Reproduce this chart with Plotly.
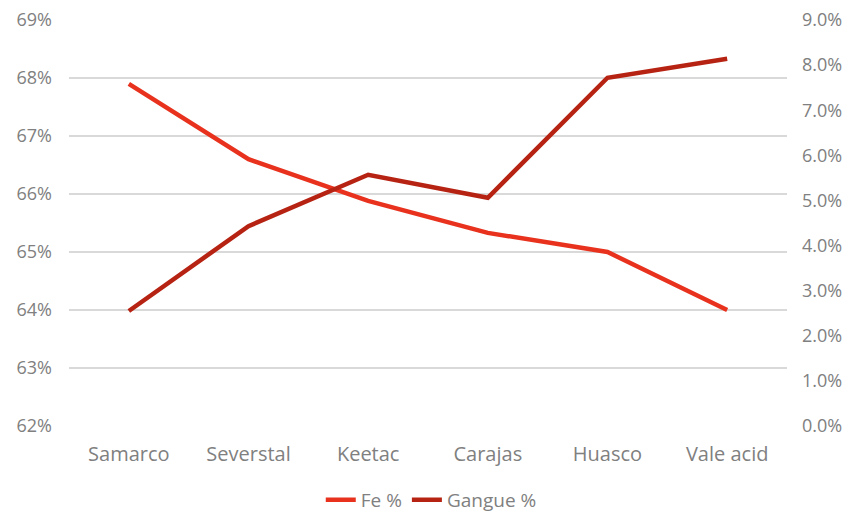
import plotly.graph_objects as go

categories = ["Samarco", "Severstal", "Keetac", "Carajas", "Huasco", "Vale acid"]
fe_pct = [67.9, 66.6, 65.88, 65.33, 65.0, 64.0]
gangue_pct = [2.55, 4.43, 5.57, 5.06, 7.72, 8.14]

left_ticks = [62, 63, 64, 65, 66, 67, 68, 69]
right_ticks = [0, 1, 2, 3, 4, 5, 6, 7, 8, 9]

font_family = "'Open Sans', Lato, sans-serif"
tick_color = "#808080"

fig = go.Figure()
fig.add_trace(go.Scatter(
    x=categories, y=fe_pct, name="Fe %", mode="lines",
    line=dict(color="#E8321E", width=4.5), yaxis="y"))
fig.add_trace(go.Scatter(
    x=categories, y=gangue_pct, name="Gangue %", mode="lines",
    line=dict(color="#B72313", width=4.5), yaxis="y2"))

fig.update_layout(
    width=854, height=514,
    margin=dict(l=69, r=67, t=20, b=88, autoexpand=False),
    paper_bgcolor="white", plot_bgcolor="white",
    font=dict(family=font_family, size=18, color=tick_color),
    showlegend=True,
    legend=dict(orientation="h", x=0.505, xanchor="center", xref="container",
                y=1 - 500 / 514, yanchor="middle", yref="container",
                font=dict(size=19, color=tick_color)),
    xaxis=dict(type="category", range=[-0.5, 5.5], showgrid=False, showline=False,
               zeroline=False, automargin=False,
               ticks="", tickfont=dict(size=20, color=tick_color), ticklabelstandoff=14),
    yaxis=dict(range=[62, 69], tickvals=left_ticks,
               ticktext=[f"{v}%" for v in left_ticks], automargin=False,
               showgrid=True, gridcolor="#D9D9D9", gridwidth=1.5, zeroline=False,
               showline=False, ticks="", tickfont=dict(size=18, color=tick_color),
               ticklabelstandoff=16),
    yaxis2=dict(range=[0, 9], tickvals=right_ticks,
                ticktext=[f"{v:.1f}%" for v in right_ticks], automargin=False,
                overlaying="y", side="right", showgrid=False, zeroline=False,
                showline=False, ticks="", tickfont=dict(size=18, color=tick_color),
                ticklabelstandoff=14),
)

fig.write_html("out.html")
